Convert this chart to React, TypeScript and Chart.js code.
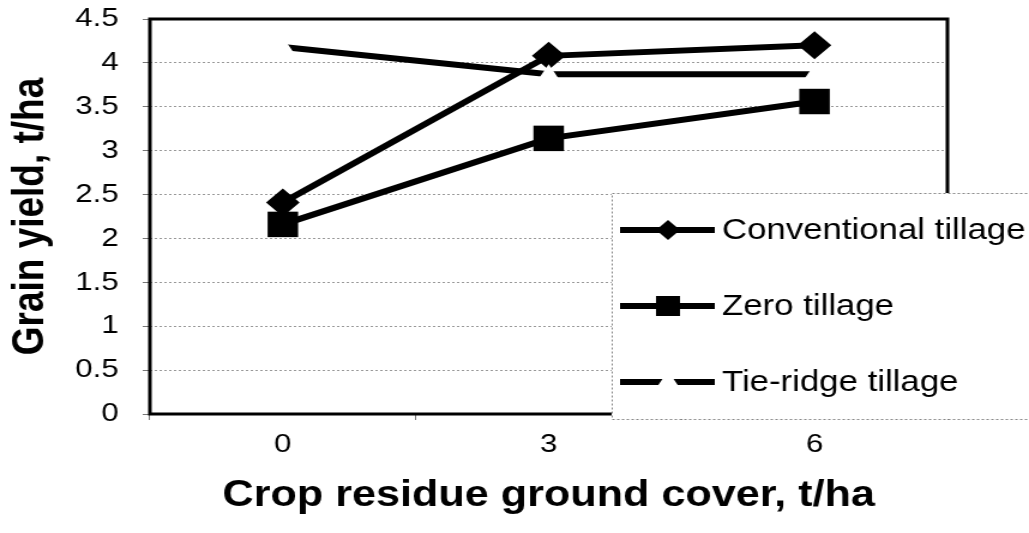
import React, { useEffect, useRef } from 'react';
import { Chart, registerables } from 'chart.js';

Chart.register(...registerables);

const categories = ['0', '3', '6'];
const conventional = [2.41, 4.08, 4.2];
const zeroTillage = [2.16, 3.14, 3.56];
const tieRidge = [4.18, 3.87, 3.87];
const yTicks = [0, 0.5, 1, 1.5, 2, 2.5, 3, 3.5, 4, 4.5];
const seriesNames = ['Conventional tillage', 'Zero tillage', 'Tie-ridge tillage'];
const xTitle = 'Crop residue ground cover, t/ha';
const yTitle = 'Grain yield, t/ha';

const CANVAS_W = 858;
const CANVAS_H = 533;
const FONT = '"Liberation Sans", Arial, Helvetica, sans-serif';

const framePlugin = {
  id: 'frame',
  beforeDatasetsDraw(chart: any) {
    const { ctx, chartArea } = chart;
    ctx.save();
    ctx.strokeStyle = '#000';
    ctx.lineWidth = 3;
    ctx.setLineDash([]);
    ctx.strokeRect(chartArea.left, chartArea.top, chartArea.right - chartArea.left, chartArea.bottom - chartArea.top);
    ctx.restore();
  },
};

function drawDiamond(ctx: CanvasRenderingContext2D, x: number, y: number, rx: number, ry: number) {
  ctx.beginPath();
  ctx.moveTo(x - rx, y);
  ctx.lineTo(x, y - ry);
  ctx.lineTo(x + rx, y);
  ctx.lineTo(x, y + ry);
  ctx.closePath();
  ctx.fill();
}

const legendPlugin = {
  id: 'boxLegend',
  afterDraw(chart: any) {
    const ctx: CanvasRenderingContext2D = chart.ctx;
    const bx = 510;
    const by = 193;
    const bh = 226;
    ctx.save();
    ctx.fillStyle = '#fff';
    ctx.fillRect(bx, by, CANVAS_W - bx + 10, bh);
    ctx.strokeStyle = '#888';
    ctx.lineWidth = 1;
    ctx.setLineDash([2, 2]);
    ctx.strokeRect(bx + 0.5, by + 0.5, CANVAS_W, bh);
    ctx.setLineDash([]);
    const rows = [230, 306, 382];
    const x1 = 517;
    const x2 = 596;
    const mx = 557;
    rows.forEach((ry, i) => {
      ctx.strokeStyle = '#000';
      ctx.lineWidth = 6;
      ctx.beginPath();
      ctx.moveTo(x1, ry);
      ctx.lineTo(x2, ry);
      ctx.stroke();
      if (i === 0) {
        ctx.fillStyle = '#000';
        drawDiamond(ctx, mx, ry, 10, 10);
      } else if (i === 1) {
        ctx.fillStyle = '#000';
        ctx.fillRect(mx - 10, ry - 10, 20, 20);
      } else {
        const r = 11;
        ctx.fillStyle = '#fff';
        ctx.beginPath();
        ctx.moveTo(mx, ry - r);
        ctx.lineTo(mx + r * 0.866, ry + r / 2);
        ctx.lineTo(mx - r * 0.866, ry + r / 2);
        ctx.closePath();
        ctx.fill();
      }
      ctx.fillStyle = '#000';
      ctx.font = `29px ${FONT}`;
      ctx.textBaseline = 'middle';
      ctx.textAlign = 'left';
      ctx.fillText(seriesNames[i], 602, ry + 1);
    });
    ctx.restore();
  },
};

export default function App() {
  const canvasRef = useRef<HTMLCanvasElement | null>(null);

  useEffect(() => {
    const canvas = canvasRef.current;
    if (!canvas) return;
    const chart = new Chart(canvas, {
      type: 'line',
      data: {
        labels: categories,
        datasets: [
          {
            label: seriesNames[2],
            data: tieRidge,
            order: 0,
            borderColor: '#000',
            borderWidth: 6,
            pointStyle: 'triangle',
            pointRadius: 10,
            pointBackgroundColor: '#fff',
            pointBorderColor: '#fff',
            pointBorderWidth: 0,
            tension: 0,
          },
          {
            label: seriesNames[0],
            data: conventional,
            order: 1,
            borderColor: '#000',
            borderWidth: 6,
            pointStyle: 'rectRot',
            pointRadius: 14,
            pointBackgroundColor: '#000',
            pointBorderColor: '#000',
            pointBorderWidth: 0,
            tension: 0,
          },
          {
            label: seriesNames[1],
            data: zeroTillage,
            order: 2,
            borderColor: '#000',
            borderWidth: 6,
            pointStyle: 'rect',
            pointRadius: 18,
            pointBackgroundColor: '#000',
            pointBorderColor: '#000',
            pointBorderWidth: 0,
            tension: 0,
          },
        ],
      },
      options: {
        responsive: false,
        devicePixelRatio: 1,
        animation: false,
        layout: { padding: { top: 19, right: 68, left: 0, bottom: 0 } },
        plugins: {
          legend: { display: false },
          tooltip: { enabled: false },
        },
        scales: {
          x: {
            type: 'category',
            offset: true,
            grid: {
              display: true,
              drawOnChartArea: false,
              drawTicks: true,
              tickLength: 6,
              offset: true,
              color: '#777',
              lineWidth: 1,
            },
            border: { display: false },
            ticks: {
              color: '#000',
              font: { family: FONT, size: 26 },
              padding: 9,
              maxRotation: 0,
            },
            title: {
              display: true,
              text: xTitle,
              color: '#000',
              font: { family: FONT, size: 36, weight: 'bold' },
              padding: { top: 0, bottom: 15 },
            },
            afterFit: (scale: any) => {
              scale.height = 119;
              scale.paddingLeft = 0;
              scale.paddingRight = 0;
            },
          },
          y: {
            min: 0,
            max: 4.5,
            afterBuildTicks: (scale: any) => {
              scale.ticks = yTicks.map((v) => ({ value: v }));
            },
            grid: {
              display: true,
              drawOnChartArea: true,
              drawTicks: true,
              tickLength: 6,
              color: '#999',
              tickColor: '#777',
              lineWidth: 1,
            },
            border: { display: false, dash: [2, 2] },
            ticks: {
              color: '#000',
              font: { family: FONT, size: 26 },
              padding: 20,
              callback: (v: any) => String(v),
            },
            title: {
              display: true,
              text: yTitle,
              color: '#000',
              font: { family: FONT, size: 37, weight: 'bold' },
              padding: { top: 4, bottom: 0 },
            },
            afterFit: (scale: any) => {
              scale.width = 125;
              scale.paddingTop = 0;
              scale.paddingBottom = 0;
            },
          },
        },
      },
      plugins: [framePlugin, legendPlugin],
    } as any);
    return () => {
      chart.destroy();
    };
  }, []);

  return (
    <div style={{ position: 'absolute', left: 0, top: 0, width: '1029px', height: '533px', background: '#fff' }}>
      <canvas
        ref={canvasRef}
        width={CANVAS_W}
        height={CANVAS_H}
        style={{ width: '1029px', height: '533px', display: 'block' }}
      />
    </div>
  );
}
